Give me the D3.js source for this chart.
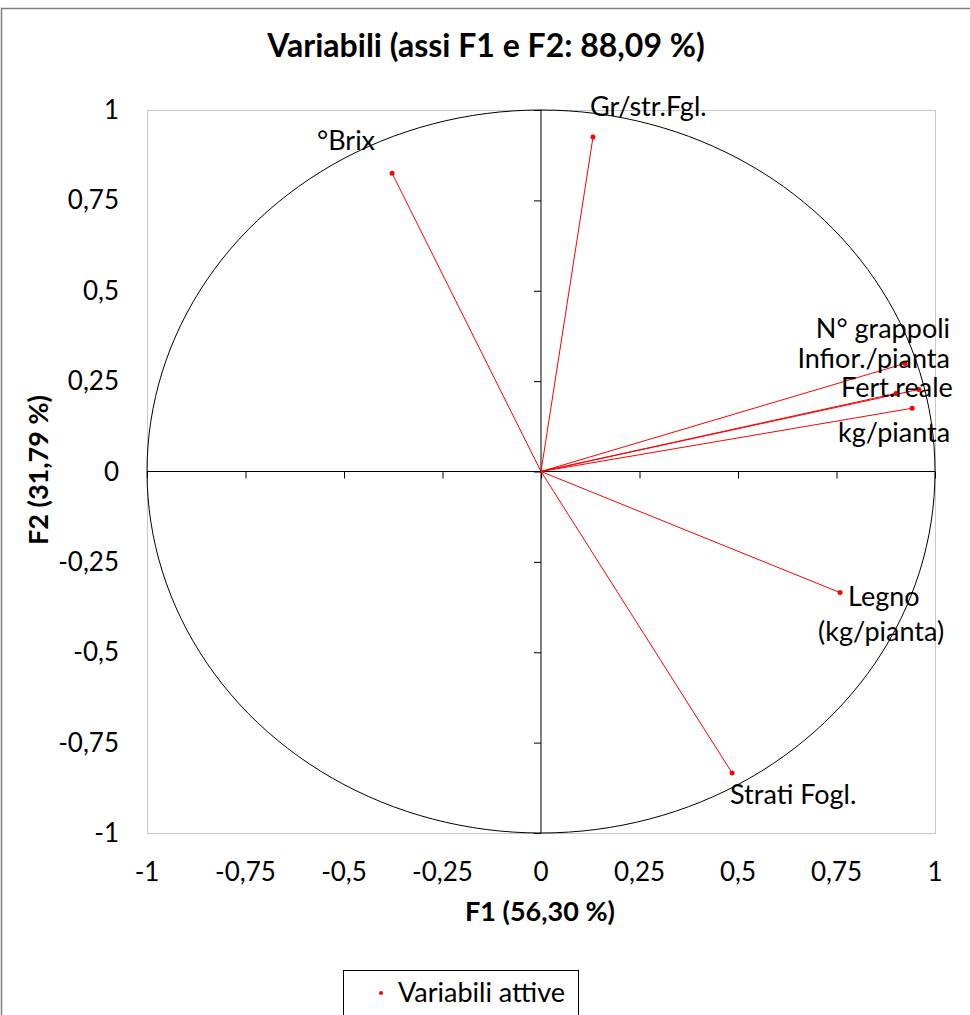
<!DOCTYPE html>
<html>
<head>
<meta charset="utf-8">
<script src="https://cdn.jsdelivr.net/npm/d3@7"></script>
<style>
  body { margin: 0; background: #fff; }
  text { font-family: Lato, "Open Sans", sans-serif; fill: #000; }
</style>
</head>
<body>
<div id="chart"></div>
<script>
// correlation circle, F1 x F2
const varNames = ["°Brix", "Gr/str.Fgl.", "N° grappoli", "Infior./pianta", "Fert.reale", "kg/pianta", "Legno\n(kg/pianta)", "Strati Fogl."];
const f1 = [-0.378, 0.132, 0.924, 0.901, 0.959, 0.942, 0.759, 0.485];
const f2 = [0.825, 0.925, 0.299, 0.216, 0.227, 0.175, -0.335, -0.834];
const tickVals = [-1, -0.75, -0.5, -0.25, 0, 0.25, 0.5, 0.75, 1];

const W = 970, H = 1015;
const plot = {left: 147, top: 110, right: 935, bottom: 833};

// label placement relative to the point [dx, dy, anchor]
const labelPos = {
  "°Brix": [-17, -23, "end"],
  "Gr/str.Fgl.": [-3, -21, "start"],
  "N° grappoli": [45, -25, "end"],
  "Infior./pianta": [54, -25, "end"],
  "Fert.reale": [34, 8, "end"],
  "kg/pianta": [38, 34, "end"],
  "Legno\n(kg/pianta)": [8, 13, "start"],
  "Strati Fogl.": [-2, 31, "start"]
};

const fmt = v => String(v).replace(".", ",");

const svg = d3.select("#chart").append("svg")
  .attr("width", W).attr("height", H);

// outer frame
svg.append("rect").attr("x", 1.5).attr("y", 8.5)
  .attr("width", W + 10).attr("height", H + 10)
  .attr("fill", "none").attr("stroke", "#7f7f7f").attr("stroke-width", 1.5);

const x = d3.scaleLinear().domain([-1, 1]).range([plot.left, plot.right]);
const y = d3.scaleLinear().domain([-1, 1]).range([plot.bottom, plot.top]);

// plot area border
svg.append("rect")
  .attr("x", plot.left + 0.5).attr("y", plot.top + 0.5)
  .attr("width", plot.right - plot.left).attr("height", plot.bottom - plot.top)
  .attr("fill", "none").attr("stroke", "#c8c8c8");

// title
svg.append("text").attr("x", 486).attr("y", 57)
  .attr("text-anchor", "middle").style("font-weight", "bold").style("font-size", "32px")
  .text("Variabili (assi F1 e F2: 88,09 %)");

// unit circle
const circ = d3.range(0, 361, 2).map(a => [Math.cos(a * Math.PI / 180), Math.sin(a * Math.PI / 180)]);
svg.append("path")
  .attr("d", d3.line().x(d => x(d[0])).y(d => y(d[1]))(circ))
  .attr("fill", "none").attr("stroke", "#000").attr("stroke-width", 1);

// axes through the origin
svg.append("line").attr("x1", x(-1)).attr("x2", x(1)).attr("y1", y(0)).attr("y2", y(0))
  .attr("stroke", "#000");
svg.append("line").attr("x1", x(0)).attr("x2", x(0)).attr("y1", y(-1)).attr("y2", y(1))
  .attr("stroke", "#000");

const xAxis = svg.append("g").attr("transform", `translate(0,${y(0)})`)
  .call(d3.axisBottom(x).tickValues(tickVals).tickSize(7).tickFormat(""));
const yAxis = svg.append("g").attr("transform", `translate(${x(0)},0)`)
  .call(d3.axisLeft(y).tickValues(tickVals).tickSize(7).tickFormat(""));
[xAxis, yAxis].forEach(g => { g.select(".domain").remove(); g.selectAll("line").attr("stroke", "#000"); });

// tick labels on plot edges
svg.selectAll(".xt").data(tickVals).join("text")
  .attr("x", d => x(d)).attr("y", 881)
  .attr("text-anchor", "middle").style("font-size", "26px")
  .text(fmt);
svg.selectAll(".yt").data(tickVals).join("text")
  .attr("x", 119).attr("y", d => y(d) + 9)
  .attr("text-anchor", "end").style("font-size", "26px")
  .text(fmt);

// axis titles
svg.append("text").attr("x", 540).attr("y", 921)
  .attr("text-anchor", "middle").style("font-weight", "bold").style("font-size", "27px")
  .text("F1 (56,30 %)");
svg.append("text").attr("transform", "translate(48,470) rotate(-90)")
  .attr("text-anchor", "middle").style("font-weight", "bold").style("font-size", "27px")
  .text("F2 (31,79 %)");

// vectors
const vars = varNames.map((n, i) => ({name: n, a: f1[i], b: f2[i]}));
svg.selectAll(".vec").data(vars).join("line")
  .attr("x1", x(0)).attr("y1", y(0))
  .attr("x2", d => x(d.a)).attr("y2", d => y(d.b))
  .attr("stroke", "#ff0000").attr("stroke-width", 1);
svg.selectAll(".pt").data(vars).join("circle")
  .attr("cx", d => x(d.a)).attr("cy", d => y(d.b)).attr("r", 2.5)
  .attr("fill", "#ff0000");

const lbl = svg.selectAll(".lbl").data(vars).join("text")
  .attr("x", d => x(d.a) + labelPos[d.name][0])
  .attr("y", d => y(d.b) + labelPos[d.name][1])
  .attr("text-anchor", d => labelPos[d.name][2])
  .style("font-size", "27px");
lbl.each(function(d) {
  const parts = d.name.split("\n");
  const t = d3.select(this);
  parts.forEach((p, i) => {
    t.append("tspan").attr("x", x(d.a) + labelPos[d.name][0] + (i ? -30 : 0))
      .attr("dy", i ? 35 : 0).text(p);
  });
});

// legend
svg.append("rect").attr("x", 343.5).attr("y", 970.5).attr("width", 235).attr("height", 60)
  .attr("fill", "#fff").attr("stroke", "#000");
svg.append("circle").attr("cx", 381).attr("cy", 993).attr("r", 2).attr("fill", "#ff0000");
svg.append("text").attr("x", 398).attr("y", 1002).style("font-size", "27px").text("Variabili attive");
</script>
</body>
</html>
